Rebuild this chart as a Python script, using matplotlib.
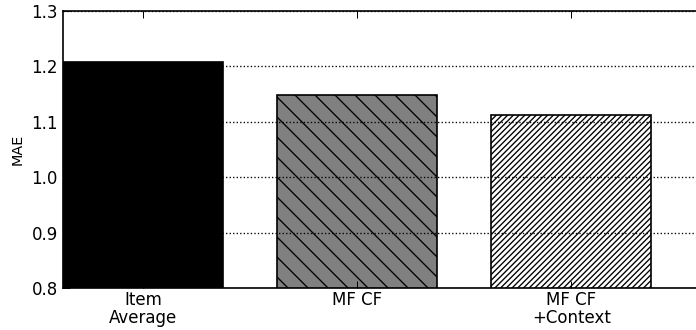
import matplotlib
matplotlib.use("Agg")
import matplotlib.pyplot as plt

categories = ["Item\nAverage", "MF CF", "MF CF\n+Context"]
mae_values = [1.208, 1.148, 1.113]
yticks = [0.8, 0.9, 1.0, 1.1, 1.2, 1.3]

colors = ["black", "gray", "white"]
hatches = ["", "\\\\", "///////"]

plt.rcParams["hatch.linewidth"] = 0.8
plt.rcParams["font.family"] = ["DejaVu Sans"]

fig = plt.figure(figsize=(5.8, 2.75), dpi=120)
ax = fig.add_axes([0.0905, 0.1273, 0.92, 0.8394])

x = list(range(len(categories)))
bars = ax.bar(x, mae_values, width=0.75, color=colors, edgecolor="black",
              linewidth=1.0, zorder=1)
for b, h in zip(bars, hatches):
    b.set_hatch(h)

ax.set_ylim(0.8, 1.3)
ax.set_yticks(yticks)
ax.set_yticklabels([f"{v:.1f}" for v in yticks])
ax.set_xlim(-0.375, -0.375 + 0.92 * 696 / 214)
ax.set_xticks(x)
ax.set_xticklabels(categories, linespacing=0.95)

ax.set_axisbelow(False)
ax.yaxis.grid(True, linestyle=":", color="black", linewidth=0.8, zorder=3)
ax.xaxis.grid(False)

ax.tick_params(axis="both", direction="in", top=True, right=True,
               labelsize=10, length=4, width=0.6, pad=3)
ax.tick_params(axis="x", pad=2)
for s in ax.spines.values():
    s.set_linewidth(1.0)

ax.set_ylabel("MAE", fontsize=8.6, labelpad=4)

fig.savefig("out.png", dpi=120, facecolor="white")
